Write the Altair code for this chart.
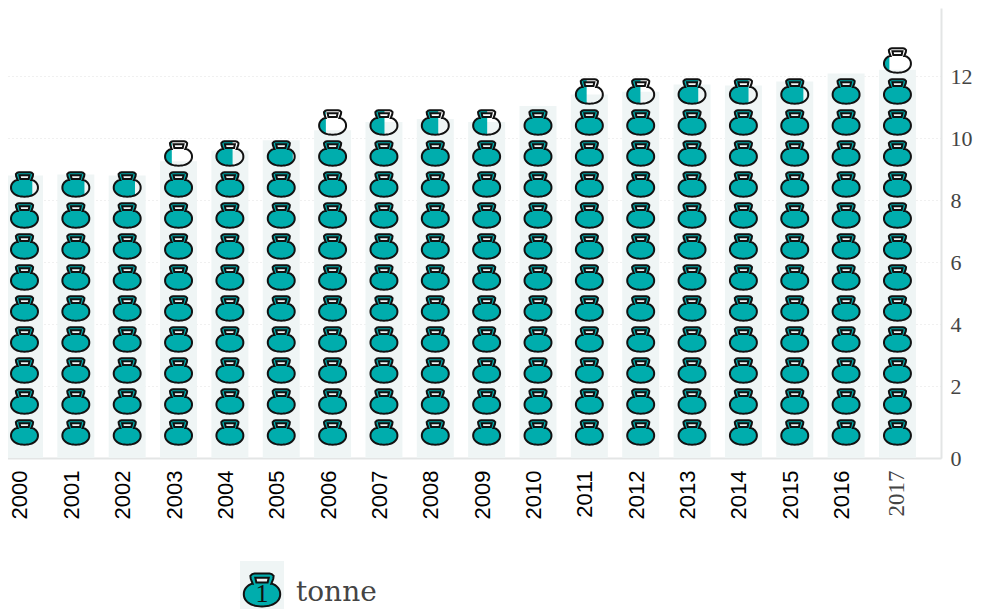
import math
import altair as alt
import pandas as pd

years = [str(y) for y in range(2000, 2018)]
values = [8.79, 8.82, 8.79, 9.25, 9.60, 9.93, 10.25, 10.52, 10.61, 10.52,
          11.03, 11.40, 11.49, 11.73, 11.69, 11.82, 12.08, 12.20]
legend_label = ["tonne"]
y_ticks = [2, 4, 6, 8, 10, 12]

TEAL = "#00adad"
PALE = "#eff5f5"
INK = "#111111"
GREY = "#444444"
AXIS = "#e3e5e5"
Y_MIN, Y_MAX = -0.3226, 14.194

# kettlebell glyph, in symbol units
def body_points():
    pts = []
    cy, rx, ry, e = 0.222, 0.97, 0.653, 0.92
    a0 = math.atan2((-0.34 - cy) / ry, 0.5 / rx)
    a1 = math.pi - a0
    n = 44
    for i in range(n + 1):
        a = a0 + (a1 - a0) * i / n
        c, s = math.cos(a), math.sin(a)
        pts.append((rx * abs(c) ** e * (1 if c >= 0 else -1),
                    cy + ry * abs(s) ** e * (1 if s >= 0 else -1)))
    return pts

OUTER = [(-0.5, -0.34), (-0.6, -0.6), (-0.62, -0.75), (-0.52, -0.85), (-0.40, -0.875),
         (0.40, -0.875), (0.52, -0.85), (0.62, -0.75), (0.6, -0.6), (0.5, -0.34)] + body_points()
HOLE = [(-0.36, -0.66), (-0.30, -0.40), (0.30, -0.40), (0.36, -0.66)]


def clip_right(poly, xmax):
    out = []
    for i, p in enumerate(poly):
        q = poly[(i + 1) % len(poly)]
        pin, qin = p[0] <= xmax, q[0] <= xmax
        if pin:
            out.append(p)
        if pin != qin:
            t = (xmax - p[0]) / (q[0] - p[0])
            out.append((xmax, p[1] + t * (q[1] - p[1])))
    return out


def to_path(poly):
    if not poly:
        return ""
    return "M" + "L".join(f"{x:.3f},{y:.3f}" for x, y in poly) + "Z"


def glyph(fraction):
    xmax = -0.97 + 1.94 * fraction
    return to_path(clip_right(OUTER, xmax)) + to_path(clip_right(HOLE, xmax))


OUTLINE = to_path(OUTER) + to_path(HOLE)

rows = []
for year, v in zip(years, values):
    count = int(v) + (1 if v - int(v) > 0.1 else 0)
    for i in range(count):
        f = min(1.0, v - i)
        rows.append({"year": year, "pos": i + 0.5, "fill": glyph(f), "line": OUTLINE})
icons = pd.DataFrame(rows)
bars = pd.DataFrame({"year": years, "value": values, "base": [Y_MIN] * len(years)})

x_scale = alt.Scale(domain=years, paddingInner=0.28, paddingOuter=0.244, align=0)
y_scale = alt.Scale(domain=[Y_MIN, Y_MAX], nice=False, zero=False)

LAST = "datum.value == '2017'"
x_axis = alt.Axis(
    title=None, labelAngle=-90, labelAlign="right", labelBaseline="middle",
    labelPadding=12, ticks=False, grid=False, domainColor=AXIS, domainWidth=2,
    labelFontSize={"condition": {"test": LAST, "value": 23}, "value": 22},
    labelFont={"condition": {"test": LAST, "value": "Liberation Serif"}, "value": "Liberation Sans"},
    labelColor={"condition": {"test": LAST, "value": GREY}, "value": "#000000"},
    labelOffset={"condition": {"test": LAST, "value": 0}, "value": -4},
    labelOverlap=False,
)
y_axis = alt.Axis(
    title=None, orient="right", values=[Y_MIN] + y_ticks, ticks=False,
    labelExpr="datum.value < 0 ? '0' : datum.label", labelPadding=9,
    labelFont="Liberation Serif", labelFontSize=22, labelColor=GREY,
    domainColor=AXIS, domainWidth=2, grid=True, gridColor="#e0e0e0",
    gridDash=[1, 3], gridWidth=1, labelOverlap=False,
)
x_enc = alt.X("year:N", scale=x_scale, axis=x_axis, sort=years)

bar_layer = alt.Chart(bars).mark_bar(color=PALE).encode(
    x=x_enc,
    y=alt.Y("base:Q", scale=y_scale, axis=y_axis),
    y2="value:Q",
)
fill_layer = alt.Chart(icons).mark_point(filled=True, opacity=1, fill=TEAL, strokeWidth=0, size=770).encode(
    x=x_enc,
    y=alt.Y("pos:Q", scale=y_scale, axis=y_axis),
    shape=alt.Shape("fill:N", scale=None),
)
line_layer = alt.Chart(icons).mark_point(filled=False, opacity=1, stroke=INK, strokeWidth=2, size=770).encode(
    x=x_enc,
    y=alt.Y("pos:Q", scale=y_scale, axis=y_axis),
    shape=alt.Shape("line:N", scale=None),
)

legend_data = pd.DataFrame({"label": legend_label, "one": ["1"], "fill": [glyph(1.0)], "line": [OUTLINE]})
legend_box = alt.Chart(legend_data).mark_rect(color=PALE).encode(
    x=alt.value(234), x2=alt.value(278), y=alt.value(553), y2=alt.value(601)
)
legend_fill = alt.Chart(legend_data).mark_point(filled=True, opacity=1, fill=TEAL, strokeWidth=0, size=1406).encode(
    x=alt.value(256), y=alt.value(582), shape=alt.Shape("fill:N", scale=None)
)
legend_line = alt.Chart(legend_data).mark_point(filled=False, opacity=1, stroke=INK, strokeWidth=2, size=1406).encode(
    x=alt.value(256), y=alt.value(582), shape=alt.Shape("line:N", scale=None)
)
legend_one = alt.Chart(legend_data).mark_text(font="Liberation Serif", fontSize=26, color=INK).encode(
    x=alt.value(256), y=alt.value(586), text="one:N"
)
legend_text = alt.Chart(legend_data).mark_text(font="DejaVu Serif", fontSize=28, color=GREY, align="left").encode(
    x=alt.value(290), y=alt.value(585), text="label:N"
)

chart = alt.layer(
    bar_layer, fill_layer, line_layer, legend_box, legend_fill, legend_line, legend_one, legend_text
).properties(
    width=935, height=450,
    autosize=alt.AutoSizeParams(type="none"),
    padding={"left": -2, "top": 0, "right": 32, "bottom": 151},
    background="#ffffff",
).configure_view(stroke=None)

chart.save("out.html", embed_options={"renderer": "svg", "actions": False})
